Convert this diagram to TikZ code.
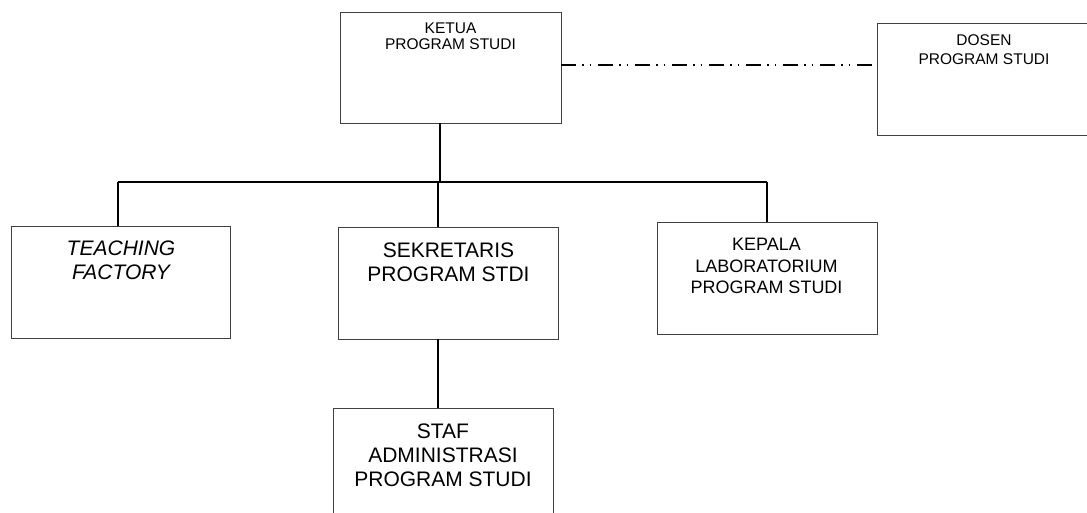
\documentclass[tikz,border=0pt]{standalone}
\usepackage{fontspec}
\setmainfont{Liberation Sans}
\newcommand{\fsz}[2]{\fontsize{#1}{#2}\selectfont}
\tikzset{
  box/.style={draw=black!75, line width=0.9pt, rectangle, inner sep=0pt, outer sep=0pt},
  txt/.style={inner sep=0pt, outer sep=0pt, align=center, anchor=north, text=black},
  conn/.style={draw=black, line width=1.8pt},
  dashdot/.style={draw=black, line width=1.8pt, dash pattern=on 15pt off 6pt on 1.5pt off 6pt on 1.5pt off 7pt}
}
\begin{document}
\begin{tikzpicture}[x=1pt,y=-1pt]
\useasboundingbox (0,0) rectangle (1087,513);
% boxes
\node[box, minimum width=221pt, minimum height=111pt] (ketua) at (450.5,67.5) {};
\node[box, minimum width=220pt, minimum height=112pt] (dosen) at (987,79) {};
\node[box, minimum width=219pt, minimum height=112pt] (tf) at (120.5,282) {};
\node[box, minimum width=220pt, minimum height=112pt] (sek) at (448,283) {};
\node[box, minimum width=220pt, minimum height=112pt] (kep) at (767,278) {};
\node[box, minimum width=220pt, minimum height=112pt] (staf) at (443,464) {};
% texts
\node[txt, font=\fsz{15.5}{16}] (ketuat) at (450.5,23) {KETUA\\PROGRAM STUDI};
\node[txt, font=\fsz{15.5}{19}] (dosent) at (984,35) {DOSEN\\PROGRAM STUDI};
\node[txt, font=\fsz{21}{24}\itshape] (tft) at (121,241) {TEACHING\\FACTORY};
\node[txt, font=\fsz{21}{23.5}] (sekt) at (448.5,243) {SEKRETARIS\\PROGRAM STDI};
\node[txt, font=\fsz{18}{21.5}] (kept) at (766.5,238.5) {KEPALA\\LABORATORIUM\\PROGRAM STUDI};
\node[txt, font=\fsz{21}{24}] (staft) at (443,424) {STAF\\ADMINISTRASI\\PROGRAM STUDI};
% connector points
\coordinate (busmid) at (440,182);
\coordinate (busL) at (118,182);
\coordinate (busR) at (767,182);
\coordinate (sekx) at (438,182);
\coordinate (stafx) at (438,339);
% connectors
\draw[conn] (ketua.south -| busmid) -- (busmid);
\draw[conn] (busL) -- (busR);
\draw[conn] (busL) -- (busL |- tf.north);
\draw[conn] (sekx) -- (sekx |- sek.north);
\draw[conn] (busR) -- (kep.north);
\draw[conn] (sek.south -| stafx) -- (staf.north -| stafx);
\draw[dashdot] (ketua.east |- 0,65) -- (dosen.west |- 0,65);
\end{tikzpicture}
\end{document}
